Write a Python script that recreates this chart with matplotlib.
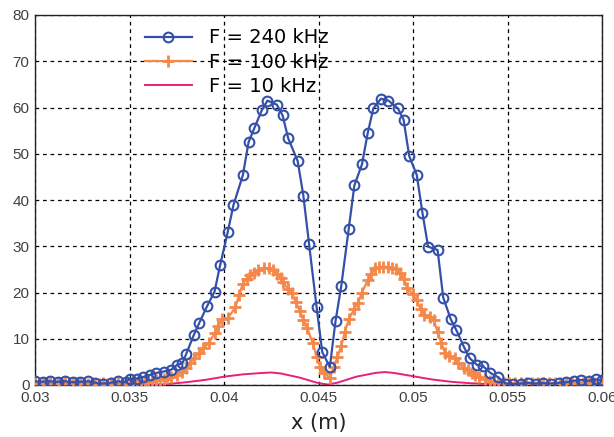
import matplotlib
matplotlib.use("Agg")
import matplotlib.pyplot as plt

plt.rcParams['font.family'] = ['Liberation Sans', 'DejaVu Sans']

# F = 240 kHz
x_240 = [0.0300, 0.0304, 0.0308, 0.0312, 0.0316, 0.0320, 0.0324, 0.0328, 0.0332, 0.0336,
         0.0340, 0.0344, 0.0348, 0.0350, 0.0354, 0.0357, 0.0361, 0.0364, 0.0368, 0.0372,
         0.0375, 0.0378, 0.0380, 0.0384, 0.0387, 0.0391, 0.0395, 0.0398, 0.0402, 0.0405,
         0.0410, 0.0413, 0.0416, 0.0420, 0.0423, 0.0428, 0.0431, 0.0434, 0.0439, 0.0442,
         0.0445, 0.0449, 0.0452, 0.0456, 0.0459, 0.0462, 0.0466, 0.0469, 0.0473, 0.0476,
         0.0479, 0.0483, 0.0487, 0.0492, 0.0495, 0.0498, 0.0502, 0.0505, 0.0508, 0.0513,
         0.0516, 0.0520, 0.0523, 0.0527, 0.0530, 0.0534, 0.0537, 0.0541, 0.0545, 0.0549,
         0.0553, 0.0557, 0.0561, 0.0565, 0.0569, 0.0573, 0.0577, 0.0581, 0.0585, 0.0589,
         0.0593, 0.0597, 0.0600]
y_240 = [0.8, 0.7, 0.8, 0.7, 0.8, 0.6, 0.7, 0.8, 0.5, 0.3,
         0.5, 0.8, 0.6, 1.3, 1.4, 1.7, 2.2, 2.6, 2.9, 3.3,
         4.3, 4.7, 6.7, 10.8, 13.5, 17.0, 20.2, 26.0, 33.1, 38.9,
         45.4, 52.5, 55.5, 59.4, 61.5, 60.6, 58.3, 53.3, 48.4, 40.9,
         30.5, 16.8, 7.1, 3.9, 13.8, 21.3, 33.8, 43.2, 47.7, 54.4,
         59.8, 61.9, 61.5, 59.8, 57.4, 49.5, 45.4, 37.2, 29.9, 29.2,
         18.9, 14.2, 11.8, 8.2, 5.8, 4.3, 4.1, 2.6, 1.7, 0.3,
         0.2, 0.3, 0.5, 0.3, 0.4, 0.3, 0.5, 0.6, 0.9, 1.1,
         0.9, 1.2, 1.0]

# F = 100 kHz
x_100 = [0.0300, 0.0302, 0.0304, 0.0306, 0.0308, 0.0310, 0.0312, 0.0314, 0.0316, 0.0318,
         0.0320, 0.0322, 0.0324, 0.0326, 0.0328, 0.0330, 0.0332, 0.0334, 0.0336, 0.0338,
         0.0340, 0.0342, 0.0344, 0.0346, 0.0348, 0.0350, 0.0352, 0.0354, 0.0356, 0.0358,
         0.0360, 0.0362, 0.0364, 0.0366, 0.0368, 0.0370, 0.0372, 0.0375, 0.0378, 0.0380,
         0.0382, 0.0384, 0.0387, 0.0389, 0.0392, 0.0395, 0.0397, 0.0399, 0.0402, 0.0406,
         0.0408, 0.0410, 0.0412, 0.0414, 0.0416, 0.0418, 0.0421, 0.0424, 0.0426, 0.0428,
         0.0430, 0.0431, 0.0434, 0.0436, 0.0438, 0.0440, 0.0442, 0.0444, 0.0447, 0.0449,
         0.0451, 0.0453, 0.0456, 0.0458, 0.0460, 0.0462, 0.0464, 0.0466, 0.0469, 0.0471,
         0.0473, 0.0476, 0.0478, 0.0480, 0.0482, 0.0484, 0.0487, 0.0489, 0.0491, 0.0493,
         0.0495, 0.0497, 0.0500, 0.0502, 0.0504, 0.0506, 0.0509, 0.0511, 0.0513, 0.0515,
         0.0517, 0.0519, 0.0522, 0.0524, 0.0527, 0.0529, 0.0531, 0.0533, 0.0535, 0.0538,
         0.0541, 0.0543, 0.0545, 0.0548, 0.0551, 0.0554, 0.0557, 0.0560, 0.0563, 0.0566,
         0.0569, 0.0572, 0.0575, 0.0578, 0.0581, 0.0584, 0.0587, 0.0590, 0.0593, 0.0596,
         0.0600]
y_100 = [0.5, 0.4, 0.5, 0.4, 0.5, 0.4, 0.5, 0.4, 0.5, 0.4,
         0.5, 0.4, 0.5, 0.4, 0.3, 0.4, 0.3, 0.3, 0.4, 0.3,
         0.4, 0.3, 0.4, 0.3, 0.4, 0.4, 0.5, 0.5, 0.6, 0.7,
         0.8, 0.9, 1.0, 1.1, 1.3, 1.5, 1.7, 2.2, 2.8, 3.6,
         4.7, 5.8, 6.9, 8.0, 9.0, 11.2, 12.8, 14.2, 14.4, 16.8,
         19.5, 21.9, 23.0, 23.8, 24.3, 24.9, 25.2, 25.2, 24.8, 24.1,
         23.2, 22.2, 20.8, 19.8, 18.0, 16.1, 14.0, 12.3, 9.0, 6.0,
         3.9, 2.6, 1.5, 3.8, 6.0, 8.4, 11.5, 14.2, 16.5, 17.8,
         20.0, 22.6, 24.0, 25.2, 25.5, 25.6, 25.5, 25.4, 25.0, 24.3,
         23.0, 20.9, 19.6, 18.3, 16.5, 15.1, 14.6, 14.0, 11.5, 9.0,
         6.9, 6.3, 5.8, 4.7, 3.7, 3.2, 2.6, 2.1, 1.7, 1.2,
         0.9, 0.7, 0.6, 0.5, 0.4, 0.5, 0.4, 0.5, 0.4, 0.5,
         0.4, 0.5, 0.4, 0.5, 0.4, 0.5, 0.4, 0.5, 0.4, 0.5,
         0.5]

# F = 10 kHz
x_10 = [0.0300, 0.0340, 0.0360, 0.0370, 0.0380, 0.0390, 0.0400, 0.0410, 0.0420, 0.0425,
        0.0430, 0.0440, 0.0450, 0.0455, 0.0460, 0.0470, 0.0480, 0.0485, 0.0490, 0.0500,
        0.0510, 0.0520, 0.0530, 0.0540, 0.0550, 0.0560, 0.0600]
y_10 = [0.0, 0.0, 0.05, 0.2, 0.6, 1.1, 1.8, 2.3, 2.6, 2.7,
        2.5, 1.6, 0.4, 0.1, 0.5, 1.8, 2.6, 2.8, 2.6, 1.9,
        1.2, 0.7, 0.4, 0.2, 0.05, 0.0, 0.0]

labels = ['F = 240 kHz', 'F = 100 kHz', 'F = 10 kHz']
x_ticks = [0.03, 0.035, 0.04, 0.045, 0.05, 0.055, 0.06]
x_ticklabels = ['0.03', '0.035', '0.04', '0.045', '0.05', '0.055', '0.06']
y_ticks = [0, 10, 20, 30, 40, 50, 60, 70, 80]

fig = plt.figure(figsize=(6.14, 4.37), dpi=100)
ax = fig.add_axes([35/614, 1 - 385/437, (602-35)/614, (385-15)/437])

blue = '#3550a8'
orange = '#f4884a'
pink = '#e8207a'

ax.plot(x_240, y_240, color=blue, lw=1.6, marker='o', ms=7, mfc='none', mew=1.5,
        label=labels[0], zorder=4)
ax.plot(x_100, y_100, color=orange, lw=1.6, marker='+', ms=8, mew=2.0,
        label=labels[1], zorder=3)
ax.plot(x_10, y_10, color=pink, lw=1.4, label=labels[2], zorder=2)

ax.set_xlim(0.03, 0.06)
ax.set_ylim(0, 80)
ax.set_xticks(x_ticks)
ax.set_xticklabels(x_ticklabels)
ax.set_yticks(y_ticks)
ax.tick_params(axis='both', labelsize=11, labelcolor='#404040', length=0)
ax.tick_params(axis='x', pad=4)
ax.tick_params(axis='y', pad=4)
ax.grid(True, color='black', linestyle=(0, (3, 3)), linewidth=0.9)
ax.set_axisbelow(True)
for s in ax.spines.values():
    s.set_color('#222222')
    s.set_linewidth(1.0)

ax.set_xlabel('x (m)', fontsize=15, color='#222222', labelpad=6,
              family=['DejaVu Sans'])

ax.legend(loc='upper left', bbox_to_anchor=(0.180, 0.985), frameon=False,
          prop={'family': 'DejaVu Sans', 'size': 14},
          handlelength=2.4, handletextpad=0.88, labelspacing=0.27, borderaxespad=0)

fig.savefig('out.png', dpi=100)
